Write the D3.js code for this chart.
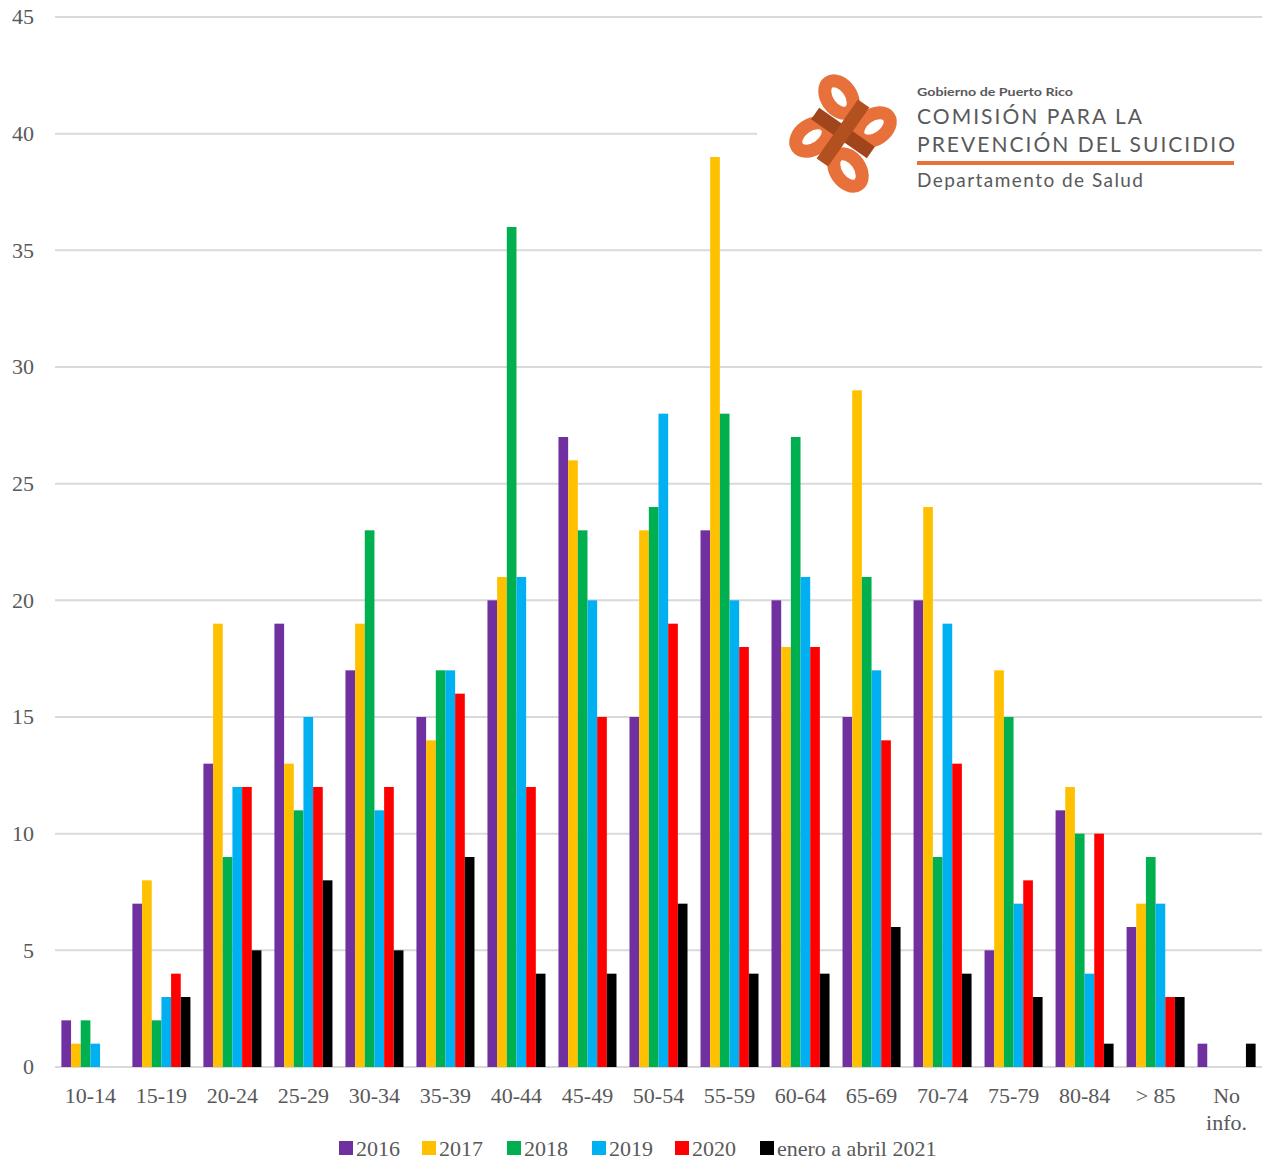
<!DOCTYPE html>
<html>
<head>
<meta charset="utf-8">
<script src="https://cdn.jsdelivr.net/npm/d3@7"></script>
<style>
  body { margin: 0; background: #fff; }
  svg { display: block; }
  .tick_lbl { font-family: "Liberation Serif", serif; font-size: 22px; fill: #595959; }
  .logo_txt { font-family: "Lato", "Noto Sans", sans-serif; fill: #58595b; }
</style>
</head>
<body>
<svg id="chart" width="1263" height="1161"></svg>
<script>
const categories = ['10-14', '15-19', '20-24', '25-29', '30-34', '35-39', '40-44', '45-49',
  '50-54', '55-59', '60-64', '65-69', '70-74', '75-79', '80-84', '> 85', 'No info.'];
const seriesNames = ['2016', '2017', '2018', '2019', '2020', 'enero a abril 2021'];
const v2016 = [2, 7, 13, 19, 17, 15, 20, 27, 15, 23, 20, 15, 20, 5, 11, 6, 1];
const v2017 = [1, 8, 19, 13, 19, 14, 21, 26, 23, 39, 18, 29, 24, 17, 12, 7, 0];
const v2018 = [2, 2, 9, 11, 23, 17, 36, 23, 24, 28, 27, 21, 9, 15, 10, 9, 0];
const v2019 = [1, 3, 12, 15, 11, 17, 21, 20, 28, 20, 21, 17, 19, 7, 4, 7, 0];
const v2020 = [0, 4, 12, 12, 12, 16, 12, 15, 19, 18, 18, 14, 13, 8, 10, 3, 0];
const v2021 = [0, 3, 5, 8, 5, 9, 4, 4, 7, 4, 4, 6, 4, 3, 1, 3, 1];
const yTicks = [0, 5, 10, 15, 20, 25, 30, 35, 40, 45];

const seriesVals = [v2016, v2017, v2018, v2019, v2020, v2021];
const colors = ['#7030a0', '#ffc000', '#00b050', '#00b0f0', '#ff0000', '#000000'];

const svg = d3.select('#chart');
const plot = {x1: 55, x2: 1262, y1: 17, y2: 1067};

const x0 = d3.scaleBand()
  .domain(categories)
  .range([plot.x1, plot.x2])
  .paddingInner(0.183)
  .paddingOuter(0.09);
const x1 = d3.scaleBand()
  .domain(d3.range(seriesNames.length))
  .range([0, x0.bandwidth()]);
const y = d3.scaleLinear().domain([0, 45]).range([plot.y2, plot.y1]);

// gridlines
svg.append('g')
  .attr('class', 'g_grid')
  .selectAll('line')
  .data(yTicks).enter()
  .append('line')
  .attr('x1', plot.x1)
  .attr('x2', plot.x2)
  .attr('y1', d => y(d))
  .attr('y2', d => y(d))
  .attr('stroke', '#d9d9d9')
  .attr('stroke-width', 2);

// y labels
svg.append('g')
  .selectAll('text')
  .data(yTicks).enter()
  .append('text')
  .attr('class', 'tick_lbl')
  .attr('x', 34)
  .attr('y', d => y(d))
  .attr('dy', '0.33em')
  .attr('text-anchor', 'end')
  .text(d => d);

// bars
const gGroups = svg.append('g')
  .attr('class', 'g_bars')
  .selectAll('g')
  .data(categories).enter()
  .append('g')
  .attr('transform', c => 'translate(' + x0(c) + ',0)');

gGroups.each(function(c, ci) {
  d3.select(this)
    .selectAll('rect')
    .data(seriesVals.map((s, si) => ({si: si, v: s[ci]})).filter(d => d.v > 0))
    .enter()
    .append('rect')
    .attr('x', d => x1(d.si))
    .attr('y', d => y(d.v))
    .attr('width', x1.bandwidth())
    .attr('height', d => y(0) - y(d.v))
    .attr('fill', d => colors[d.si]);
});

// x labels
const xl = svg.append('g')
  .selectAll('text')
  .data(categories).enter()
  .append('text')
  .attr('class', 'tick_lbl')
  .attr('x', c => x0(c) + x0.bandwidth() / 2)
  .attr('y', 1103)
  .attr('text-anchor', 'middle');
xl.each(function(c) {
  const parts = c === 'No info.' ? ['No', 'info.'] : [c];
  d3.select(this).selectAll('tspan')
    .data(parts).enter()
    .append('tspan')
    .attr('x', x0(c) + x0.bandwidth() / 2)
    .attr('dy', (p, i) => i === 0 ? 0 : 27)
    .text(p => p);
});

// legend
const legX = [339, 422, 507, 592, 675, 760];
const gLeg = svg.append('g')
  .attr('class', 'g_legend')
  .selectAll('g')
  .data(seriesNames).enter()
  .append('g')
  .attr('transform', (d, i) => 'translate(' + legX[i] + ',1141)');
gLeg.append('rect')
  .attr('width', 14)
  .attr('height', 14)
  .attr('fill', (d, i) => colors[i]);
gLeg.append('text')
  .attr('class', 'tick_lbl')
  .attr('x', 17)
  .attr('y', 15)
  .text(d => d);

// logo
const logo = svg.append('g').attr('class', 'g_logo');
logo.append('rect')
  .attr('x', 757).attr('y', 55)
  .attr('width', 506).attr('height', 150)
  .attr('fill', '#fff');

const icon = logo.append('g').attr('transform', 'translate(843,133)');
const petals = [
  {x: -4, y: -36, r: -35},
  {x: 31, y: -6, r: 55},
  {x: -31, y: 4, r: 55},
  {x: 5, y: 37, r: -35}
];
icon.selectAll('.petal')
  .data(petals).enter()
  .append('ellipse')
  .attr('class', 'petal')
  .attr('transform', d => 'translate(' + d.x + ',' + d.y + ') rotate(' + d.r + ')')
  .attr('rx', 12)
  .attr('ry', 18)
  .attr('fill', 'none')
  .attr('stroke', '#e8703a')
  .attr('stroke-width', 13);
icon.append('rect')
  .attr('x', -34).attr('y', -7)
  .attr('width', 68).attr('height', 14)
  .attr('transform', 'rotate(35)')
  .attr('fill', '#a0451c');
icon.append('rect')
  .attr('x', -7).attr('y', -36)
  .attr('width', 14).attr('height', 72)
  .attr('transform', 'rotate(35)')
  .attr('fill', '#b3501f');

logo.append('text').attr('class', 'logo_txt')
  .attr('x', 917).attr('y', 96)
  .attr('font-size', 11).attr('font-weight', 'bold')
  .attr('textLength', 156).attr('lengthAdjust', 'spacingAndGlyphs')
  .text('Gobierno de Puerto Rico');
logo.append('text').attr('class', 'logo_txt')
  .attr('x', 917).attr('y', 124)
  .attr('font-size', 21)
  .attr('textLength', 225).attr('lengthAdjust', 'spacing')
  .text('COMISIÓN PARA LA');
logo.append('text').attr('class', 'logo_txt')
  .attr('x', 917).attr('y', 152)
  .attr('font-size', 21)
  .attr('textLength', 318).attr('lengthAdjust', 'spacing')
  .text('PREVENCIÓN DEL SUICIDIO');
logo.append('line')
  .attr('x1', 917).attr('x2', 1234)
  .attr('y1', 163).attr('y2', 163)
  .attr('stroke', '#e8703a')
  .attr('stroke-width', 4);
logo.append('text').attr('class', 'logo_txt')
  .attr('x', 917).attr('y', 187)
  .attr('font-size', 19)
  .attr('textLength', 226).attr('lengthAdjust', 'spacing')
  .text('Departamento de Salud');
</script>
</body>
</html>
